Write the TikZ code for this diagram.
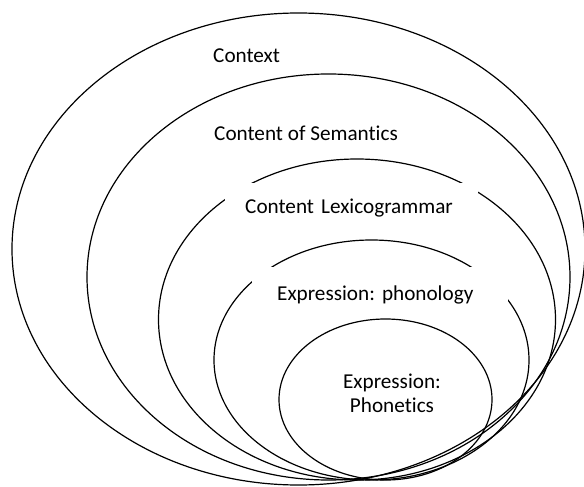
\documentclass[tikz,border=0pt]{standalone}
\usepackage{fontspec}
\setmainfont{Carlito}[Ligatures=NoCommon]
\usetikzlibrary{shapes.geometric}
\frenchspacing

\begin{document}
\begin{tikzpicture}[x=1pt,y=-1pt,
  ring/.style={shape=ellipse,draw,line width=1.2pt,inner sep=0pt},
  txt/.style={font=\fontsize{21.2}{24}\selectfont,inner sep=0pt},
  gapbox/.style={txt,fill=white,anchor=north west,align=left}]
\useasboundingbox (0,0) rectangle (584,487);
% nested strata, all meeting at the bottom
\node  (context) at (298.5,249)   [ring,minimum width=573pt,minimum height=472pt] {};
\node (semantic) at (328.5,277)   [ring,minimum width=483pt,minimum height=406pt] {};
\node  (lexgram) at (357,319.5)   [ring,minimum width=397pt,minimum height=321pt] {};
\node (phonolgy) at (371.5,360)   [ring,minimum width=315pt,minimum height=240pt] {};
\node (phonetic) at (385.5,399.5) [ring,minimum width=213pt,minimum height=161pt] {};
% labels
\node (t-context)  at (213,63)  [txt,anchor=base west] {Context};
\node (t-semantic) at (214,140) [txt,anchor=base west] {Content of Semantics};
\node (t-lexgram)  at (225,183) [gapbox,inner xsep=20pt,text width=213pt,minimum height=49pt] {Content Lexicogrammar};
\node (t-phonolgy) at (252,267) [gapbox,inner xsep=25pt,text width=206pt,minimum height=50pt,text height=20pt] {Expression: phonology};
\node (t-phonetic) at (392,393) [txt,align=center] {Expression:\\Phonetics};
\end{tikzpicture}
\end{document}
